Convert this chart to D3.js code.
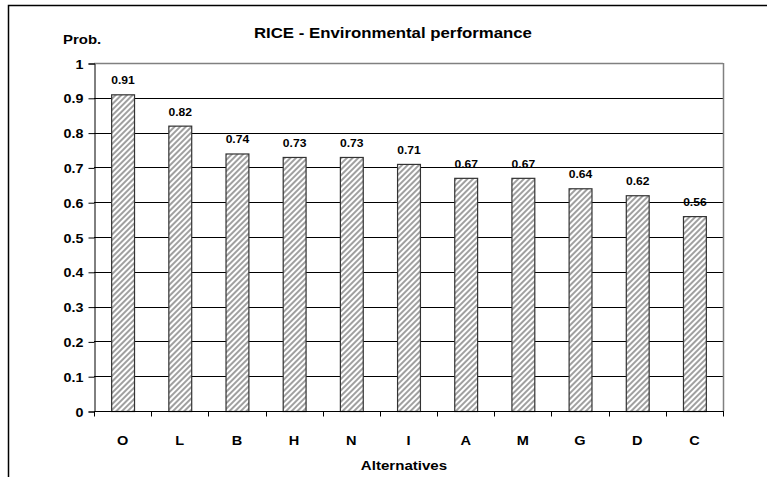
<!DOCTYPE html>
<html>
<head>
<meta charset="utf-8">
<script src="https://cdn.jsdelivr.net/npm/d3@7"></script>
<style>
body{margin:0;background:#fff;}
text{font-family:"Liberation Sans",Arial,sans-serif;font-weight:bold;fill:#000;transform-box:fill-box;}
.mid{transform-origin:center;}
.rt{transform-origin:right;}
.lf{transform-origin:left;}
</style>
</head>
<body>
<svg id="chart" width="767" height="477"></svg>
<script>
// chart data
var categories=["O","L","B","H","N","I","A","M","G","D","C"];
var probs=[0.91,0.82,0.74,0.73,0.73,0.71,0.67,0.67,0.64,0.62,0.56];
var yTicks=[0,0.1,0.2,0.3,0.4,0.5,0.6,0.7,0.8,0.9,1];

var svg=d3.select("#chart");
var pL=94,pT=63,pR=723,pB=411; // plot box

// hatch pattern for the bars
var pat=svg.append("defs").append("pattern").attr("id","hatch")
	.attr("patternUnits","userSpaceOnUse").attr("width",4).attr("height",4)
	.attr("patternTransform","rotate(45)");
pat.append("rect").attr("width",4).attr("height",4).attr("fill","#fff");
pat.append("rect").attr("width",2).attr("height",4).attr("fill","#a0a0a0");

// outer frame (runs off the right and bottom edge)
svg.append("rect").attr("x",8.5).attr("y",5.5).attr("width",800).attr("height",500)
	.attr("fill","none").attr("stroke","#000").attr("stroke-width",1.5);

var x=d3.scaleBand().domain(categories).range([pL,pR]).paddingInner(0.6).paddingOuter(0.3);
var xb=d3.scaleBand().domain(categories).range([pL,pR]);
var y=d3.scaleLinear().domain([0,1]).range([pB,pT]);

// gridlines (top one is the grey plot border)
svg.append("g").selectAll("line").data(yTicks.slice(1)).enter().append("line")
	.attr("x1",pL).attr("x2",pR).attr("y1",function(d){return Math.round(y(d))+0.5;})
	.attr("y2",function(d){return Math.round(y(d))+0.5;})
	.attr("stroke",function(d){return d==1?"#808080":"#000";}).attr("stroke-width",function(d){return d==1?1.5:1;});
// plot border right side
svg.append("line").attr("x1",pR+0.5).attr("x2",pR+0.5).attr("y1",pT).attr("y2",pB)
	.attr("stroke","#808080").attr("stroke-width",1.5);

// bars
svg.append("g").selectAll("rect").data(probs).enter().append("rect")
	.attr("x",function(d,i){return x(categories[i])+0.5;})
	.attr("y",function(d){return y(d)+0.5;})
	.attr("width",x.bandwidth())
	.attr("height",function(d){return pB-y(d);})
	.attr("fill","url(#hatch)").attr("stroke","#333").attr("stroke-width",1.2);

// value labels
svg.append("g").selectAll("text").data(probs).enter().append("text")
	.attr("class","mid")
	.attr("x",function(d,i){return x(categories[i])+x.bandwidth()/2+0.5;})
	.attr("y",function(d){return y(d)-10;})
	.attr("text-anchor","middle").style("font-size","11px").style("transform","scaleX(1.1)")
	.text(function(d){return d.toFixed(2);});

// y axis
var yAxis=svg.append("g").attr("transform","translate("+(pL+0.5)+",0.5)")
	.call(d3.axisLeft(y).tickValues(yTicks).tickSize(6).tickPadding(5).tickFormat(function(d){return d;}));
yAxis.selectAll("text").attr("class","rt").attr("dy","0.36em")
	.style("font-size","13px").style("transform","scaleX(1.1)");
yAxis.attr("font-family",null).attr("font-size",null);
yAxis.selectAll("line,path").attr("stroke","#000");

// x axis
var xAxis=svg.append("g").attr("transform","translate(0,"+(pB+0.5)+")");
xAxis.append("line").attr("x1",pL).attr("x2",pR+1).attr("stroke","#000").attr("stroke-width",1.2);
xAxis.selectAll(".tk").data(categories.concat(["end"])).enter().append("line")
	.attr("x1",function(d,i){return Math.round(pL+i*xb.bandwidth())+0.5;})
	.attr("x2",function(d,i){return Math.round(pL+i*xb.bandwidth())+0.5;})
	.attr("y1",0).attr("y2",5).attr("stroke","#000");
xAxis.selectAll("text").data(categories).enter().append("text")
	.attr("class","mid")
	.attr("x",function(d){return xb(d)+xb.bandwidth()/2;})
	.attr("y",34).attr("text-anchor","middle").style("font-size","13px").style("transform","scaleX(1.12)")
	.text(function(d){return d;});

// titles
svg.append("text").attr("class","mid").attr("x",393).attr("y",38).attr("text-anchor","middle")
	.style("font-size","14px").style("transform","scaleX(1.2)").text("RICE - Environmental performance");
svg.append("text").attr("class","lf").attr("x",63).attr("y",44)
	.style("font-size","13px").style("transform","scaleX(1.15)").text("Prob.");
svg.append("text").attr("class","mid").attr("x",404).attr("y",470).attr("text-anchor","middle")
	.style("font-size","13px").style("transform","scaleX(1.16)").text("Alternatives");
</script>
</body>
</html>
